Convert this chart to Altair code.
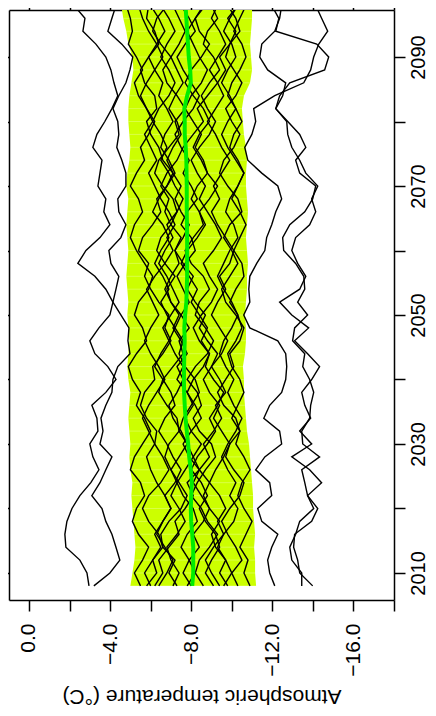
import altair as alt
import pandas as pd

# ---------------- data ----------------
years = list(range(2008, 2100, 2))  # 2008 ... 2098

x_ticks = [0, -2, -4, -6, -8, -10, -12, -14, -16, -18]
y_ticks = [2010, 2020, 2030, 2040, 2050, 2060, 2070, 2080, 2090]

band_upper = [-5.0, -5.1, -5.2, -5.25, -5.2, -5.15, -5.1, -5.05, -5.1, -5.0,
              -4.95, -5.0, -4.95, -4.9, -4.95, -5.0, -4.9, -4.85, -4.9, -4.95,
              -4.9, -4.85, -4.9, -4.85, -4.8, -4.85, -4.9, -4.85, -4.8, -4.85,
              -4.9, -4.8, -4.85, -4.95, -5.0, -4.95, -4.9, -4.9, -4.95, -5.05,
              -5.15, -5.1, -4.9, -4.8, -4.65, -4.55]
band_lower = [-11.2, -11.15, -11.15, -11.1, -11.15, -11.1, -11.05, -11.05, -11.0, -10.95,
              -10.9, -10.85, -10.75, -10.7, -10.65, -10.6, -10.6, -10.55, -10.65, -10.7,
              -10.7, -10.65, -10.7, -10.75, -10.75, -10.8, -10.75, -10.7, -10.75, -10.8,
              -10.75, -10.7, -10.7, -10.75, -10.7, -10.6, -10.55, -10.5, -10.6, -10.9,
              -11.0, -10.95, -10.9, -10.95, -11.0, -11.0]
ens_mean = [-8.05, -8.1, -8.1, -8.1, -8.05, -8.0, -7.98, -8.0, -8.03, -7.98,
            -7.9, -7.85, -7.78, -7.72, -7.68, -7.65, -7.64, -7.65, -7.66, -7.68,
            -7.66, -7.7, -7.76, -7.78, -7.8, -7.8, -7.8, -7.8, -7.79, -7.78,
            -7.78, -7.78, -7.77, -7.76, -7.73, -7.68, -7.68, -7.66, -7.8, -7.98,
            -7.95, -7.88, -7.84, -7.8, -7.76, -7.72]

line_A = [-2.96, -2.86, -2.51, -1.82, -1.77, -1.87, -2.12, -2.51, -3.05, -3.45,
          -3.15, -3.00, -3.40, -3.35, -3.10, -3.79, -4.29, -3.89, -3.25, -3.00,
          -3.45, -3.99, -4.14, -3.79, -3.25, -2.41, -2.81, -3.50, -3.99, -3.69,
          -3.79, -3.40, -3.50, -3.60, -3.15, -3.35, -3.74, -4.09, -4.38, -4.19,
          -4.04, -3.79, -3.30, -2.66, -2.76, -2.22]
line_B = [-3.20, -3.99, -4.48, -4.29, -4.09, -3.79, -3.60, -3.10, -3.50, -3.79,
          -4.09, -3.50, -3.65, -3.55, -3.79, -4.09, -4.14, -4.38, -4.98, -4.88,
          -4.93, -4.53, -4.14, -4.29, -4.43, -4.04, -3.94, -4.53, -4.78, -4.43,
          -4.38, -4.78, -4.78, -4.58, -4.33, -4.43, -4.38, -4.14, -4.43, -4.78,
          -4.98, -5.12, -4.58, -3.89, -4.09, -4.29]
line_C = [-12.12, -11.87, -11.77, -11.97, -12.27, -11.48, -11.28, -11.97, -11.87, -11.18,
          -11.63, -12.46, -12.36, -11.58, -11.87, -12.46, -12.66, -12.71, -12.66, -12.27,
          -10.89, -10.59, -10.89, -10.84, -10.89, -11.23, -11.63, -11.72, -11.97, -12.17,
          -12.46, -12.27, -11.48, -10.79, -10.64, -10.99, -11.18, -11.08, -12.12, -13.55,
          -13.89, -14.04, -14.29, -14.73, -14.43, -14.14]
line_D = [-13.99, -13.35, -13.25, -13.05, -13.10, -13.94, -14.24, -13.74, -13.60, -13.45,
          -14.33, -13.50, -13.45, -13.84, -13.89, -14.04, -13.84, -13.50, -13.60, -13.00,
          -13.10, -13.74, -13.25, -13.60, -13.55, -13.15, -12.56, -12.51, -12.86, -13.60,
          -13.99, -14.14, -13.35, -13.15, -13.65, -13.35, -12.76, -12.17, -12.51, -12.66,
          -11.77, -11.38, -11.48, -12.12, -12.36, -12.46]
line_E = [-13.45, -13.45, -12.96, -12.86, -13.15, -13.35, -14.04, -13.74, -14.43, -13.84,
          -12.96, -13.94, -13.35, -13.89, -13.60, -13.45, -13.94, -14.33, -13.74, -13.10,
          -13.79, -12.96, -12.36, -13.35, -13.65, -13.25, -12.96, -13.15, -13.84, -14.14,
          -13.94, -14.24, -13.65, -13.35, -12.96, -12.76, -12.71, -12.17, -12.36, -12.86,
          -14.58, -14.78, -14.19, -12.17, -12.32, -11.97]

inner_01 = [-5.8, -6.3, -6.1, -6.6, -6.4, -5.9, -5.6, -5.9, -6.5, -6.9,
            -6.6, -6.2, -6.3, -5.8, -5.5, -5.7, -6.2, -6.1, -6.6, -7.0,
            -6.7, -6.9, -6.4, -6.0, -5.7, -5.9, -5.4, -5.6, -6.1, -6.5,
            -6.3, -6.8, -7.1, -6.6, -6.4, -6.0, -5.8, -6.3, -6.2, -5.7,
            -5.5, -5.9, -6.4, -6.2, -5.8, -5.9]
inner_02 = [-7.3, -6.9, -7.2, -6.6, -6.5, -6.9, -7.5, -7.8, -7.4, -7.0,
            -6.7, -6.9, -7.4, -7.3, -6.8, -6.4, -6.6, -7.1, -7.6, -7.4,
            -7.9, -7.5, -7.0, -6.8, -7.2, -6.7, -6.3, -6.5, -7.0, -7.3,
            -7.1, -6.6, -6.2, -6.4, -6.9, -7.4, -7.2, -7.7, -7.3, -6.8,
            -6.6, -7.0, -6.5, -6.1, -6.3, -6.8]
inner_03 = [-8.6, -8.2, -8.4, -8.9, -9.3, -8.8, -8.5, -8.0, -8.3, -8.7,
            -9.2, -9.0, -8.4, -8.1, -8.5, -8.3, -7.8, -8.2, -8.8, -9.1,
            -8.7, -8.2, -8.4, -8.9, -8.6, -8.0, -7.7, -8.1, -8.6, -8.4,
            -8.9, -9.3, -8.8, -8.5, -8.1, -8.4, -8.9, -8.6, -8.1, -7.7,
            -8.0, -8.5, -8.9, -8.4, -8.2, -8.7]
inner_04 = [-10.3, -10.0, -10.5, -10.2, -9.8, -9.5, -9.9, -10.4, -10.6, -10.1,
            -9.7, -9.9, -10.4, -10.2, -9.6, -9.3, -9.7, -10.1, -9.9, -10.4,
            -10.6, -10.2, -9.7, -9.5, -9.9, -10.3, -10.0, -9.6, -9.9, -10.5,
            -10.3, -9.8, -9.4, -9.6, -10.1, -10.4, -10.0, -9.7, -10.2, -10.5,
            -10.1, -9.7, -9.9, -10.4, -10.2, -9.8]
inner_05 = [-6.2, -6.6, -6.4, -6.9, -7.4, -7.2, -7.7, -8.1, -7.8, -8.4,
            -8.9, -8.6, -9.1, -9.5, -9.2, -9.7, -9.4, -9.0, -9.3, -8.8,
            -8.4, -8.7, -8.2, -7.8, -8.1, -7.6, -7.2, -7.5, -7.0, -6.7,
            -6.9, -6.5, -6.8, -7.3, -7.6, -8.1, -8.6, -8.3, -8.8, -9.3,
            -9.7, -9.4, -9.9, -10.2, -9.8, -10.3]
inner_06 = [-9.1, -8.7, -9.0, -9.4, -9.2, -8.7, -8.4, -8.8, -8.5, -8.0,
            -8.3, -8.8, -9.2, -8.9, -9.3, -9.6, -9.1, -8.7, -8.9, -8.4,
            -8.1, -8.5, -9.0, -9.3, -8.9, -8.6, -9.1, -9.5, -9.2, -8.8,
            -8.4, -8.7, -8.3, -8.0, -8.4, -8.9, -9.2, -8.8, -8.5, -8.9,
            -9.4, -9.1, -8.6, -8.8, -9.3, -9.0]
inner_07 = [-5.5, -5.2, -5.6, -5.9, -5.4, -5.1, -5.3, -5.7, -5.5, -5.0,
            -5.2, -5.6, -6.0, -5.7, -5.3, -5.5, -5.1, -4.9, -5.3, -5.8,
            -5.6, -5.2, -5.4, -5.9, -6.1, -5.7, -5.3, -5.0, -5.2, -5.6,
            -5.4, -5.0, -5.3, -5.7, -5.5, -5.9, -6.2, -5.8, -5.4, -5.2,
            -5.6, -5.3, -4.9, -5.1, -5.0, -4.8]
inner_08 = [-7.8, -8.2, -7.9, -7.5, -7.8, -8.3, -8.1, -7.6, -7.3, -7.7,
            -8.1, -7.8, -7.4, -7.6, -8.0, -8.4, -8.2, -7.7, -7.4, -7.6,
            -7.2, -7.5, -7.9, -7.6, -7.3, -7.7, -8.2, -8.0, -7.5, -7.8,
            -8.3, -8.0, -7.6, -7.9, -7.5, -7.2, -7.6, -8.1, -8.4, -8.0,
            -7.6, -7.3, -7.7, -8.2, -7.9, -7.5]
inner_09 = [-9.8, -9.4, -9.7, -9.2, -9.0, -9.4, -8.9, -8.6, -8.9, -8.4,
            -8.1, -8.5, -8.0, -7.7, -8.1, -7.8, -7.3, -7.6, -7.2, -6.9,
            -7.2, -6.8, -6.5, -6.9, -6.6, -6.2, -6.5, -6.9, -6.6, -6.1,
            -6.4, -6.8, -7.2, -6.9, -6.5, -6.7, -7.1, -6.8, -6.4, -6.6,
            -6.2, -5.9, -6.3, -6.7, -6.4, -6.0]
inner_10 = [-10.9, -10.6, -10.8, -10.4, -10.7, -11.0, -10.6, -10.3, -10.5, -10.9,
            -10.6, -10.2, -10.4, -10.0, -10.3, -10.6, -10.4, -10.0, -9.8, -10.2,
            -10.5, -10.3, -9.9, -10.2, -10.6, -10.5, -10.1, -10.4, -10.7, -10.4,
            -10.0, -10.3, -10.6, -10.3, -9.9, -10.1, -10.5, -10.2, -9.8, -10.0,
            -10.4, -10.7, -10.5, -10.1, -10.4, -10.7]
inner_11 = [-6.4, -6.8, -7.1, -6.7, -6.3, -6.6, -7.0, -6.7, -7.2, -7.5,
            -7.1, -6.8, -6.4, -6.7, -7.2, -7.0, -6.6, -6.2, -6.5, -6.9,
            -6.6, -7.0, -7.4, -7.1, -6.8, -6.4, -6.7, -7.1, -6.8, -7.3,
            -7.6, -7.2, -6.9, -6.5, -6.8, -6.5, -6.1, -6.4, -6.9, -7.2,
            -6.9, -6.5, -6.8, -7.2, -6.9, -6.5]
inner_12 = [-9.4, -9.0, -8.7, -9.1, -9.6, -9.3, -9.7, -9.4, -8.9, -9.2,
            -9.6, -9.9, -9.5, -9.1, -9.4, -8.9, -8.6, -9.0, -9.5, -9.8,
            -9.4, -9.0, -9.3, -9.7, -9.4, -9.9, -10.1, -9.7, -9.3, -9.0,
            -9.4, -9.1, -9.5, -9.9, -9.5, -9.2, -8.8, -9.2, -9.6, -9.3,
            -8.9, -9.3, -9.7, -9.4, -9.0, -9.3]
inner_13 = [-8.0, -7.6, -7.9, -8.4, -8.1, -8.6, -8.9, -8.5, -8.1, -8.4,
            -7.9, -7.6, -8.0, -8.5, -8.2, -7.8, -8.1, -8.6, -8.9, -8.5,
            -8.8, -8.4, -8.0, -8.3, -7.9, -7.5, -7.8, -8.3, -8.7, -8.4,
            -8.0, -8.3, -8.8, -8.6, -8.2, -8.5, -8.1, -7.7, -8.0, -8.5,
            -8.8, -8.4, -8.1, -7.8, -8.2, -8.6]
inner_14 = [-6.0, -5.7, -6.1, -6.5, -6.2, -6.6, -7.0, -6.7, -6.3, -6.0,
            -5.8, -6.2, -5.9, -5.6, -5.9, -6.3, -6.7, -6.4, -6.0, -5.7,
            -6.0, -6.4, -6.1, -5.8, -6.2, -6.7, -7.1, -6.8, -7.2, -6.9,
            -6.5, -6.2, -5.9, -6.3, -6.0, -5.7, -6.1, -5.8, -5.5, -5.8,
            -6.2, -6.6, -6.3, -5.9, -5.6, -5.4]
inner_15 = [-9.6, -10.0, -9.7, -9.3, -9.6, -10.1, -10.3, -9.9, -10.2, -9.8,
            -9.5, -9.8, -10.2, -10.5, -10.1, -9.8, -10.1, -9.7, -9.4, -9.6,
            -10.0, -10.3, -10.0, -9.6, -9.3, -9.6, -9.9, -10.3, -10.1, -9.7,
            -9.9, -10.3, -10.6, -10.2, -9.8, -9.5, -9.8, -10.2, -9.9, -9.5,
            -9.8, -10.2, -10.0, -9.6, -9.9, -10.3]
inner_16 = [-7.1, -7.4, -7.0, -6.8, -7.3, -7.7, -7.4, -7.0, -7.3, -7.0,
            -7.4, -7.8, -7.5, -7.1, -6.9, -7.3, -7.6, -7.3, -7.8, -7.5,
            -7.1, -7.4, -7.0, -6.7, -7.0, -7.4, -7.2, -7.6, -7.9, -7.5,
            -7.2, -7.5, -7.1, -6.8, -7.1, -7.5, -7.3, -6.9, -7.2, -7.6,
            -7.3, -7.0, -7.4, -7.7, -7.4, -7.1]

members = {
    "A": line_A, "B": line_B, "C": line_C, "D": line_D, "E": line_E,
    "i01": inner_01, "i02": inner_02, "i03": inner_03, "i04": inner_04,
    "i05": inner_05, "i06": inner_06, "i07": inner_07, "i08": inner_08,
    "i09": inner_09, "i10": inner_10, "i11": inner_11, "i12": inner_12,
    "i13": inner_13, "i14": inner_14, "i15": inner_15, "i16": inner_16,
}
for k, v in members.items():
    assert len(v) == len(years), (k, len(v))
assert len(band_upper) == len(years) and len(band_lower) == len(years) and len(ens_mean) == len(years)

lines_df = pd.DataFrame(
    [{"member": k, "year": y, "temp": t} for k, vals in members.items() for y, t in zip(years, vals)]
)
band_df = pd.DataFrame({"year": years, "lo": band_lower, "hi": band_upper, "mean": ens_mean})

# ---------------- chart ----------------
FONT = "Liberation Sans"
xs = alt.Scale(domain=[-18.0, 0.985], reverse=True, nice=False, zero=False)
ys = alt.Scale(domain=[2005.81, 2097.29], nice=False, zero=False)

common = dict(grid=False, domainColor="black", domainWidth=1.5, tickColor="black",
              tickWidth=1.5, labelFont=FONT, labelColor="black", titleFont=FONT,
              titleColor="black")

ax_bottom = alt.Axis(orient="bottom", values=x_ticks, format=".1f",
                     labelExpr="datum.value % 4 == 0 ? datum.label : ''",
                     labelAngle=270, labelAlign="right", labelBaseline="middle",
                     labelPadding=12, labelFontSize=21, labelOverlap=False, labelFlush=False,
                     tickSize=11,
                     title="Atmospheric temperature (°C)", titleFontSize=21,
                     titleFontWeight="normal", titleAngle=180, titleAlign="center",
                     titleBaseline="alphabetic", titleX=192.5, titleY=89, **common)
ax_top = alt.Axis(orient="top", values=x_ticks, labels=False, title=None, tickSize=10, **common)
ax_right = alt.Axis(orient="right", values=y_ticks, format="d",
                    labelExpr="datum.value % 20 == 10 ? datum.label : ''",
                    labelAngle=270, labelAlign="center", labelBaseline="top",
                    labelPadding=3, labelFontSize=20, labelOverlap=False, labelFlush=False,
                    tickSize=11, title=None, **common)
ax_left = alt.Axis(orient="left", values=y_ticks, labels=False, title=None, tickSize=10, **common)

band = alt.Chart(band_df).mark_area(orient="horizontal", color="#CCFF00", clip=True).encode(
    x=alt.X("lo:Q", scale=xs, axis=ax_bottom),
    x2="hi:Q",
    y=alt.Y("year:Q", scale=ys, axis=ax_right),
)
stripes = alt.Chart(band_df).mark_rule(color="white", opacity=0.35, strokeWidth=0.8, clip=True).encode(
    x=alt.X("lo:Q", scale=xs, axis=None),
    x2="hi:Q",
    y=alt.Y("year:Q", scale=ys, axis=None),
)
lines = alt.Chart(lines_df).mark_line(color="black", strokeWidth=1.4, clip=True).encode(
    x=alt.X("temp:Q", scale=xs, axis=ax_top),
    y=alt.Y("year:Q", scale=ys, axis=ax_left),
    detail="member:N",
    order="year:Q",
)
mean = alt.Chart(band_df).mark_line(color="#00EE00", strokeWidth=4, clip=True).encode(
    x=alt.X("mean:Q", scale=xs, axis=None),
    y=alt.Y("year:Q", scale=ys, axis=None),
    order="year:Q",
)

chart = (
    alt.layer(band, stripes, lines, mean)
    .resolve_axis(x="independent", y="independent")
    .properties(width=385, height=590,
                autosize=alt.AutoSizeParams(type="none"),
                padding={"left": 1, "top": 2, "right": 34, "bottom": 108})
    .configure_view(strokeWidth=0)
)

chart.save("out.html", embed_options={"renderer": "svg", "actions": False})
